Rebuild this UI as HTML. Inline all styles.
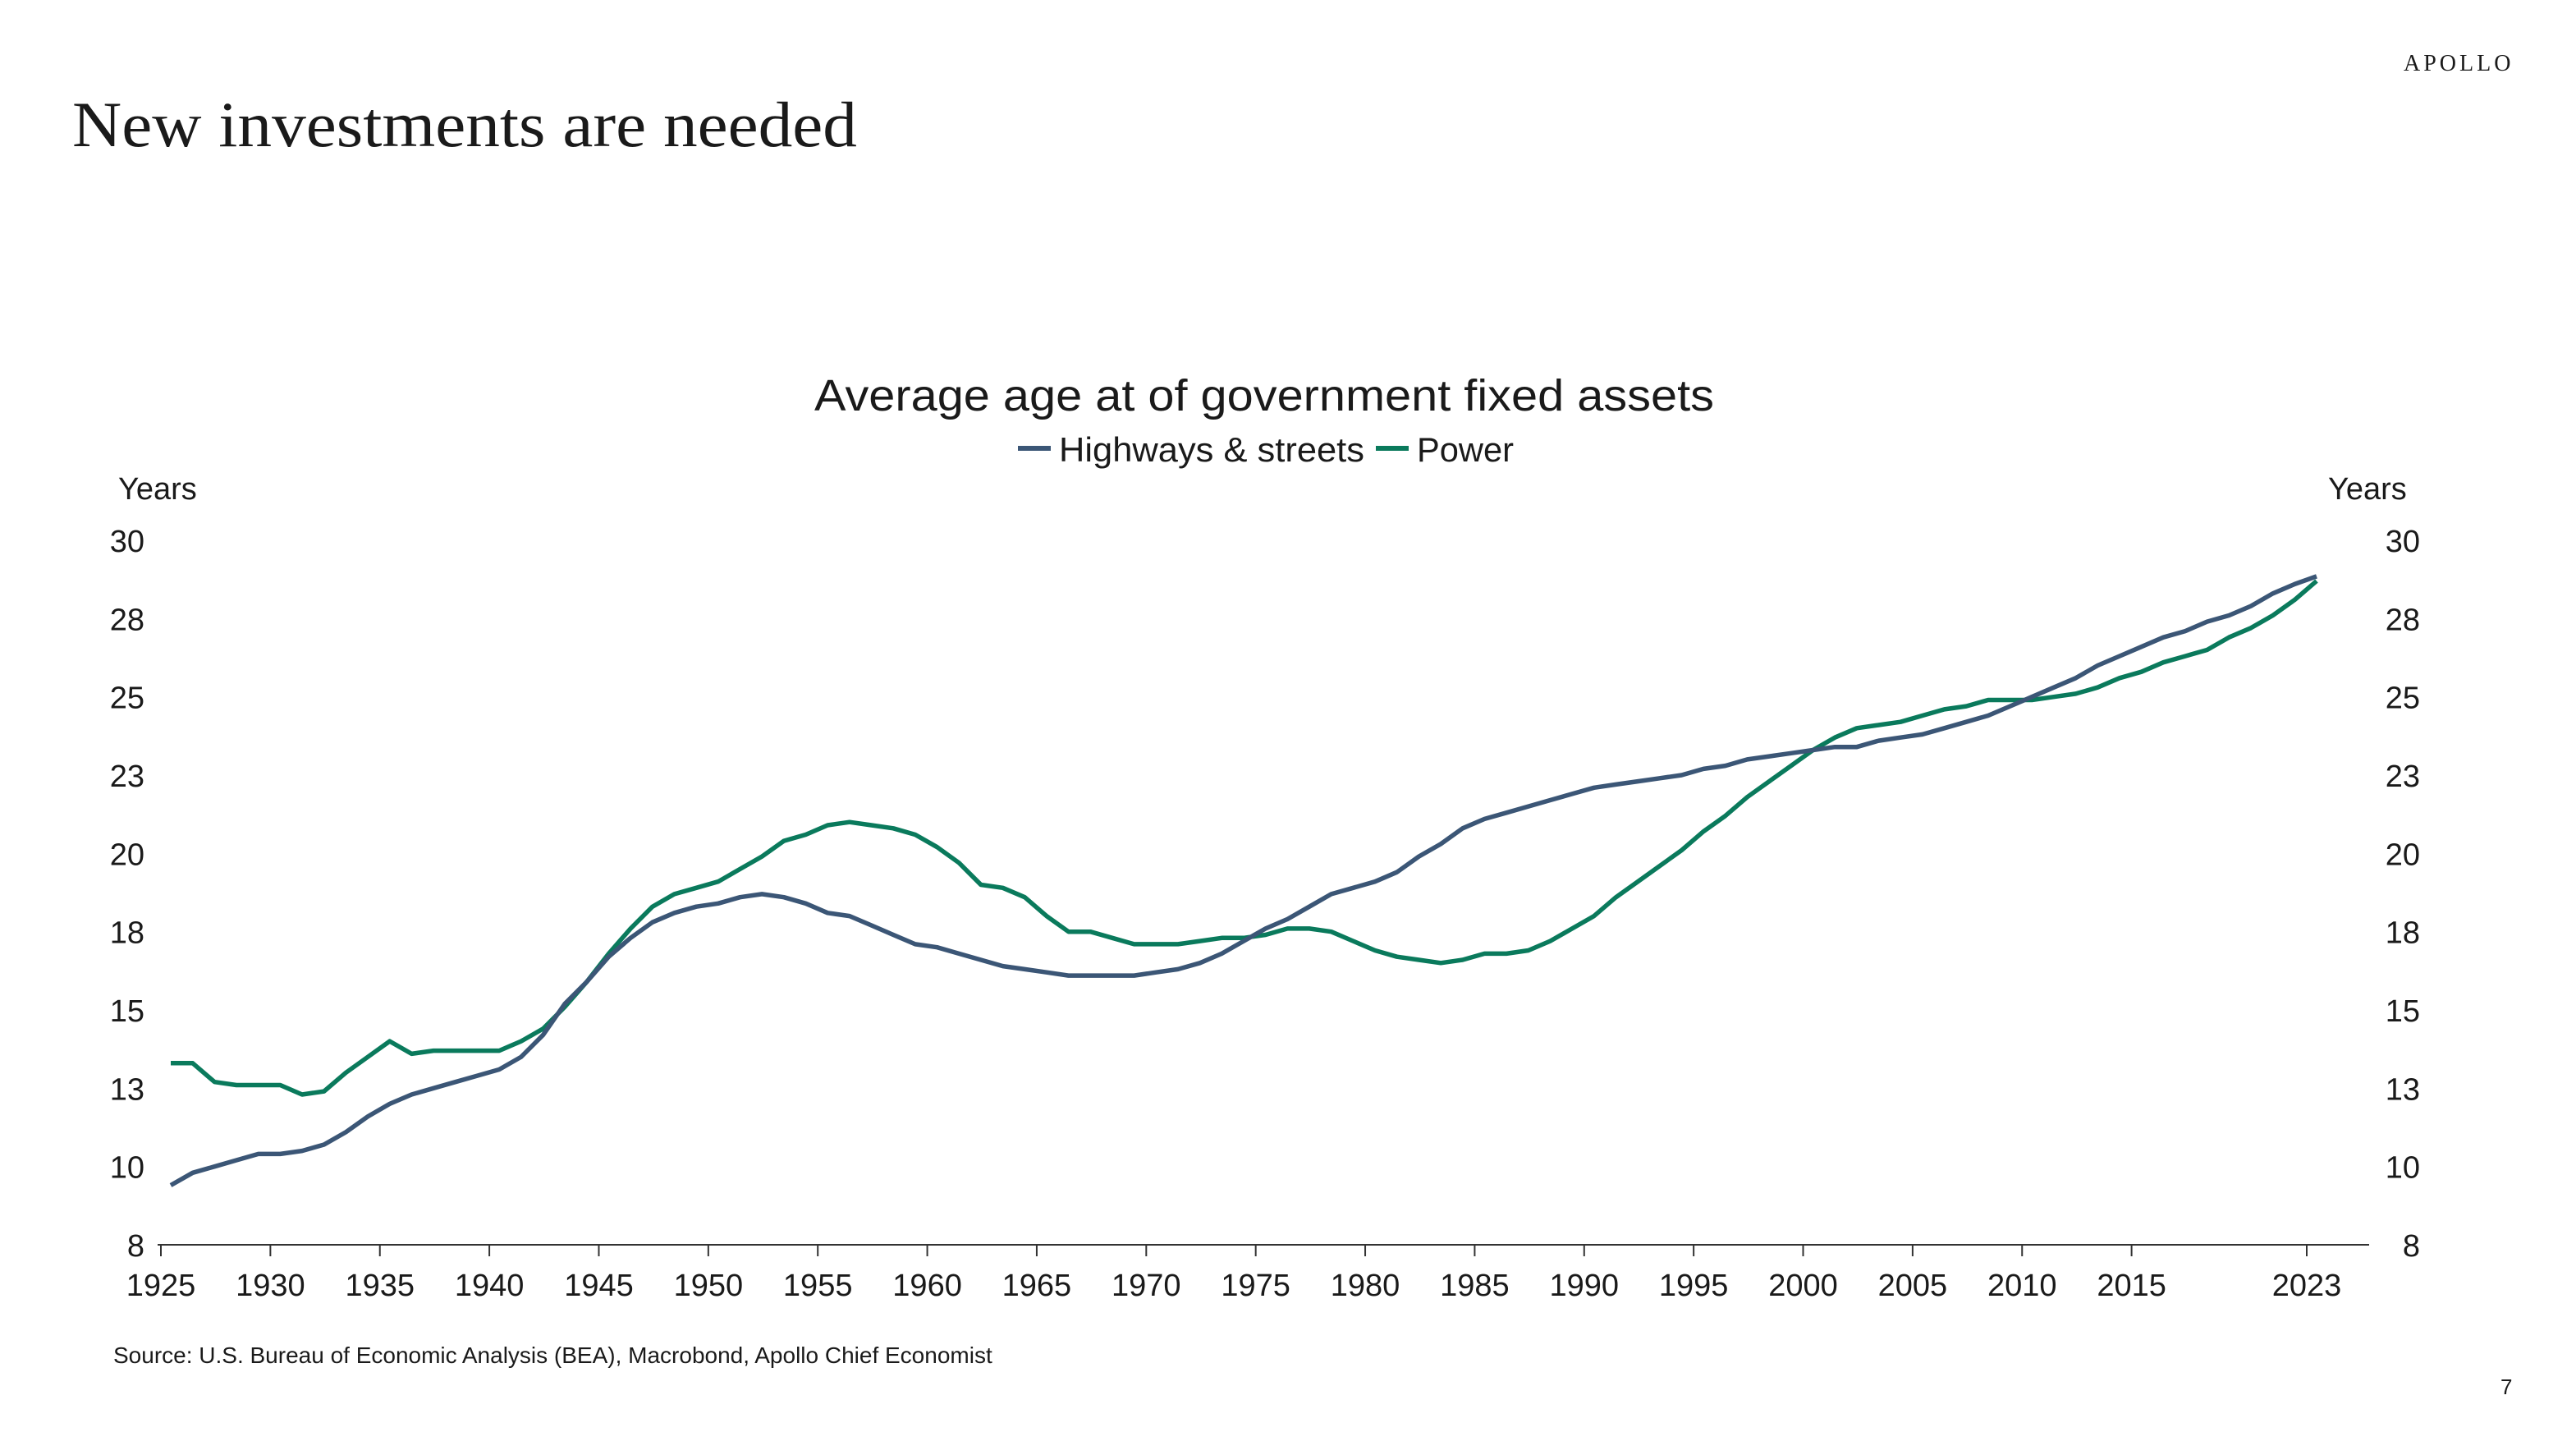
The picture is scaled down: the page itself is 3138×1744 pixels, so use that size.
<!DOCTYPE html>
<html><head><meta charset="utf-8"><style>
html,body{margin:0;padding:0;background:#fff;}
svg{display:block;}
text{font-family:"Liberation Sans",sans-serif;fill:#1a1a1a;}
</style></head><body>
<svg id="chart" width="3138" height="1744" viewBox="0 0 3138 1744" xmlns="http://www.w3.org/2000/svg">
<text x="2928" y="86" font-size="28" letter-spacing="4" style="font-family:'Liberation Serif',serif">APOLLO</text>
<text x="88" y="178" font-size="78" style="font-family:'Liberation Serif',serif" textLength="956" lengthAdjust="spacingAndGlyphs">New investments are needed</text>
<text x="992" y="500" font-size="54" textLength="1096" lengthAdjust="spacingAndGlyphs">Average age at of government fixed assets</text>
<line x1="1240" y1="546" x2="1280" y2="546" stroke="#3b5676" stroke-width="6"/>
<text x="1290" y="562" font-size="42" textLength="372" lengthAdjust="spacingAndGlyphs">Highways &amp; streets</text>
<line x1="1676" y1="546" x2="1716" y2="546" stroke="#0a7a5c" stroke-width="6"/>
<text x="1726" y="562" font-size="42" textLength="118" lengthAdjust="spacingAndGlyphs">Power</text>
<text x="144" y="608" font-size="38">Years</text>
<text x="2836" y="608" font-size="38">Years</text>
<g id="axes"></g>
<g id="series"></g>
<text x="138" y="1660" font-size="28">Source: U.S. Bureau of Economic Analysis (BEA), Macrobond, Apollo Chief Economist</text>
<text x="3046" y="1698" font-size="26">7</text>
</svg>
<script>
const years = [];
for (let y = 1925; y <= 2023; y++) years.push(y);
const highways = [9.4,9.8,10.0,10.2,10.4,10.4,10.5,10.7,11.1,11.6,12.0,12.3,12.5,12.7,12.9,13.1,13.5,14.2,15.2,15.9,16.7,17.3,17.8,18.1,18.3,18.4,18.6,18.7,18.6,18.4,18.1,18.0,17.7,17.4,17.1,17.0,16.8,16.6,16.4,16.3,16.2,16.1,16.1,16.1,16.1,16.2,16.3,16.5,16.8,17.2,17.6,17.9,18.3,18.7,18.9,19.1,19.4,19.9,20.3,20.8,21.1,21.3,21.5,21.7,21.9,22.1,22.2,22.3,22.4,22.5,22.7,22.8,23.0,23.1,23.2,23.3,23.4,23.4,23.6,23.7,23.8,24.0,24.2,24.4,24.7,25.0,25.3,25.6,26.0,26.3,26.6,26.9,27.1,27.4,27.6,27.9,28.3,28.6,28.85];
const power = [13.3,13.3,12.7,12.6,12.6,12.6,12.3,12.4,13.0,13.5,14.0,13.6,13.7,13.7,13.7,13.7,14.0,14.4,15.1,15.9,16.8,17.6,18.3,18.7,18.9,19.1,19.5,19.9,20.4,20.6,20.9,21.0,20.9,20.8,20.6,20.2,19.7,19.0,18.9,18.6,18.0,17.5,17.5,17.3,17.1,17.1,17.1,17.2,17.3,17.3,17.4,17.6,17.6,17.5,17.2,16.9,16.7,16.6,16.5,16.6,16.8,16.8,16.9,17.2,17.6,18.0,18.6,19.1,19.6,20.1,20.7,21.2,21.8,22.3,22.8,23.3,23.7,24.0,24.1,24.2,24.4,24.6,24.7,24.9,24.9,24.9,25.0,25.1,25.3,25.6,25.8,26.1,26.3,26.5,26.9,27.2,27.6,28.1,28.7];
const yTicks = [7.5,10,12.5,15,17.5,20,22.5,25,27.5,30];
const yTickLabels = ["8","10","13","15","18","20","23","25","28","30"];
const xTicks = [1925,1930,1935,1940,1945,1950,1955,1960,1965,1970,1975,1980,1985,1990,1995,2000,2005,2010,2015,2023];

const NS = "http://www.w3.org/2000/svg";
const X = yr => 196 + (yr - 1925) * (2810 - 196) / 98;
const Y = v => 1516 - (v - 7.5) * (1516 - 658) / 22.5;
const axes = document.getElementById('axes');
const series = document.getElementById('series');
function mk(tag, attrs, parent) {
  const e = document.createElementNS(NS, tag);
  for (const k in attrs) e.setAttribute(k, attrs[k]);
  parent.appendChild(e);
  return e;
}
const axisLine = mk('line', {x1: 192, y1: 1516, x2: 2886, y2: 1516, stroke: '#333', 'stroke-width': 2}, axes);


xTicks.forEach(t => {
  const tk = mk('line', {x1: X(t), y1: 1516, x2: X(t), y2: 1530, stroke: '#333', 'stroke-width': 2}, axes);
  
  
  const lb = mk('text', {x: X(t), y: 1578, 'font-size': 38, 'text-anchor': 'middle'}, axes);
  lb.textContent = t;
  
  
});
yTicks.forEach((v, i) => {
  const l = mk('text', {x: 176, y: Y(v) + 14, 'font-size': 38, 'text-anchor': 'end'}, axes);
  l.textContent = yTickLabels[i];
  
  
  const r = mk('text', {x: 2948, y: Y(v) + 14, 'font-size': 38, 'text-anchor': 'end'}, axes);
  r.textContent = yTickLabels[i];
  
  
});
function drawLine(vals, color, name) {
  const d = vals.map((v, i) => (i ? 'L' : 'M') + X(years[i] + 0.45).toFixed(1) + ',' + Y(v).toFixed(1)).join(' ');
  const p = mk('path', {d: d, fill: 'none', stroke: color, 'stroke-width': 5.5, 'stroke-linejoin': 'round'}, series);
  
  
}
drawLine(power, '#0a7a5c', 'power-line');
drawLine(highways, '#3b5676', 'highways-line');
</script>
</body></html>
